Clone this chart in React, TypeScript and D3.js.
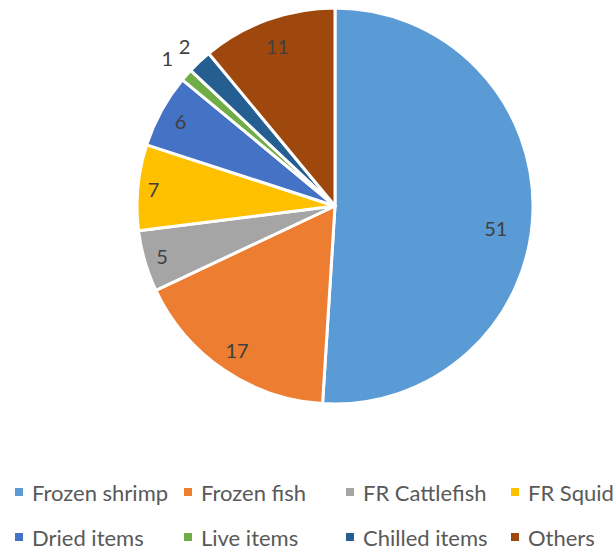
import React from "react";
import * as d3 from "d3";

const categories = ["Frozen shrimp", "Frozen fish", "FR Cattlefish", "FR Squid", "Dried items", "Live items", "Chilled items", "Others"];
const values = [51, 17, 5, 7, 6, 1, 2, 11];
const colors = ["#5B9BD5", "#ED7D31", "#A5A5A5", "#FFC000", "#4472C4", "#70AD47", "#255E91", "#9E480E"];
// label radius (fraction of pie radius); > 1 means outside
const labelRadius = [0.82, 0.88, 0.91, 0.92, 0.89, 1.13, 1.11, 0.86];
const labelAngleShift = [6, 0, 0, 0, 0, 0, 0, 0];

const W = 614, H = 550;
const cx = 335, cy = 206, R = 198;
const FONT = "Lato, 'Open Sans', sans-serif";

export default function App() {
  const pie = d3.pie<number>().sort(null).value(d => d)(values);
  const arc = d3.arc<d3.PieArcDatum<number>>().innerRadius(0).outerRadius(R);
  const legendCols = [15, 184, 346, 511];
  const legendRows = [492, 537];
  return (
    <svg width={W} height={H} style={{ position: "absolute", left: 0, top: 0 }}>
      <rect width={W} height={H} fill="#fff" />
      <g transform={`translate(${cx},${cy})`}>
        {pie.map((p, i) => (
          <path key={i} d={arc(p) || ""} fill={colors[i]} stroke="#fff" strokeWidth={3} strokeLinejoin="round" />
        ))}
        {pie.map((p, i) => {
          const a = (p.startAngle + p.endAngle) / 2 + (labelAngleShift[i] * Math.PI) / 180;
          const r = R * labelRadius[i];
          return (
            <text key={i} x={r * Math.sin(a)} y={-r * Math.cos(a)} textAnchor="middle" dominantBaseline="central"
              fontFamily={FONT} fontSize={20} fill="#404040">{values[i]}</text>
          );
        })}
      </g>
      {categories.map((c, i) => {
        const x = legendCols[i % 4];
        const y = legendRows[Math.floor(i / 4)];
        return (
          <g key={c}>
            <rect x={x} y={y - 4} width={8} height={8} fill={colors[i]} />
            <text x={x + 17} y={y} dominantBaseline="central" fontFamily={FONT} fontSize={22} fill="#595959">{c}</text>
          </g>
        );
      })}
    </svg>
  );
}
